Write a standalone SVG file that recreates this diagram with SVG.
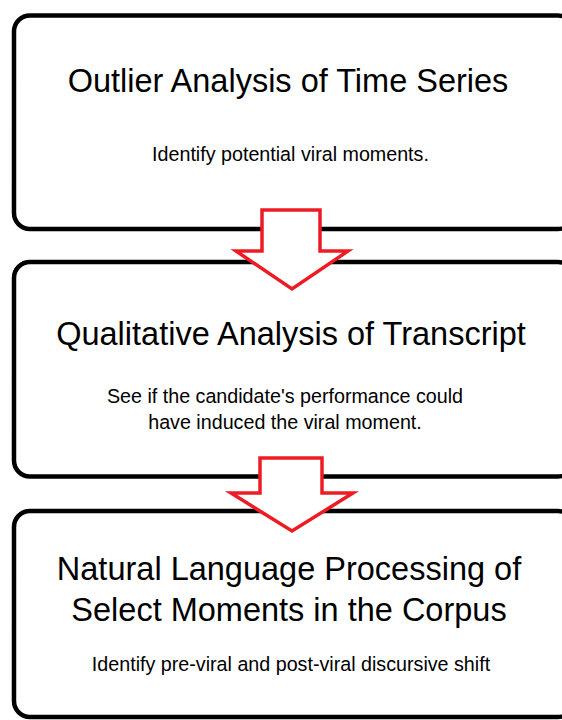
<svg xmlns="http://www.w3.org/2000/svg" width="562" height="720" viewBox="0 0 562 720">
  <style>
    .box { fill: #ffffff; stroke: #000000; stroke-width: 4.5; }
    .title { font-family: "Liberation Sans", Arial, sans-serif; font-size: 32.5px; fill: #000000; text-anchor: middle; }
    .sub { font-family: "Liberation Sans", Arial, sans-serif; font-size: 19.7px; fill: #000000; text-anchor: middle; }
    .arrow { fill: #ffffff; stroke: #ed1c24; stroke-width: 3.5; stroke-linejoin: miter; }
  </style>
  <rect x="0" y="0" width="562" height="720" fill="#ffffff"/>

  <g id="step-outlier">
    <rect class="box" x="14" y="15.5" width="560" height="213.5" rx="16" ry="16"/>
    <text class="title" x="288" y="92">Outlier Analysis of Time Series</text>
    <text class="sub" x="290.5" y="161">Identify potential viral moments.</text>
  </g>

  <g id="step-qualitative">
    <rect class="box" x="14" y="262" width="560" height="214.5" rx="16" ry="16"/>
    <text class="title" x="291" y="345">Qualitative Analysis of Transcript</text>
    <text class="sub" x="285" y="403">See if the candidate's performance could</text>
    <text class="sub" x="285" y="429">have induced the viral moment.</text>
  </g>

  <g id="step-nlp">
    <rect class="box" x="14" y="511" width="560" height="206" rx="16" ry="16"/>
    <text class="title" x="289" y="580">Natural Language Processing of</text>
    <text class="title" x="289" y="621">Select Moments in the Corpus</text>
    <text class="sub" x="291" y="671">Identify pre-viral and post-viral discursive shift</text>
  </g>

  <g id="connectors">
    <polygon class="arrow" points="262,210 320,210 320,251 348,251 292,289 236,251 262,251"/>
    <polygon class="arrow" points="260,458 322,458 322,493 353,493 292,531 231,493 260,493"/>
  </g>
</svg>
